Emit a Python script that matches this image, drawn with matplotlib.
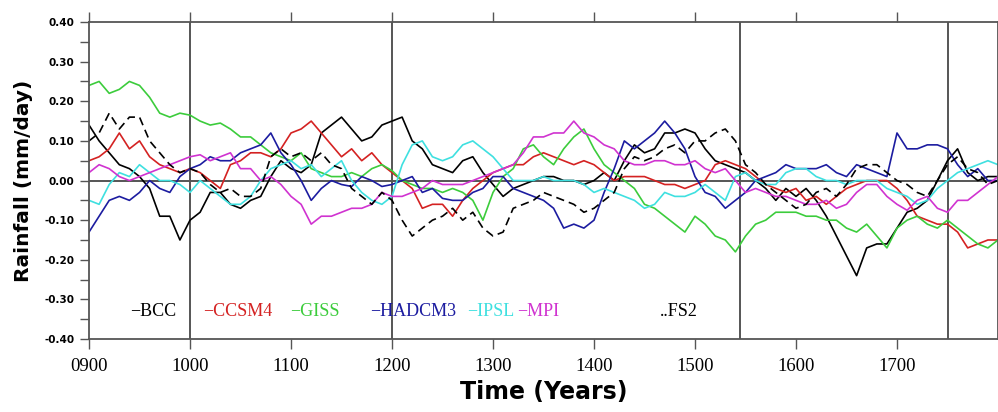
import numpy as np
import matplotlib.pyplot as plt
from matplotlib.ticker import FixedLocator, MultipleLocator

# decadal values (mm/day anomalies)
years = np.arange(900, 1801, 10)

bcc = [0.14, 0.10, 0.07, 0.04, 0.03, 0.01, -0.02, -0.09, -0.09, -0.15,
       -0.10, -0.08, -0.03, -0.03, -0.06, -0.07, -0.05, -0.04, 0.01, 0.05,
       0.03, 0.02, 0.04, 0.12, 0.14, 0.16, 0.13, 0.10, 0.11, 0.14,
       0.15, 0.16, 0.10, 0.08, 0.04, 0.03, 0.02, 0.05, 0.06, 0.02,
       -0.01, -0.04, -0.02, -0.01, 0.00, 0.01, 0.01, 0.00, 0.00, -0.01,
       0.00, 0.02, 0.00, 0.05, 0.09, 0.07, 0.08, 0.12, 0.12, 0.13,
       0.12, 0.08, 0.05, 0.04, 0.03, 0.02, 0.00, -0.02, -0.05, -0.02,
       -0.04, -0.02, -0.05, -0.09, -0.14, -0.19, -0.24, -0.17, -0.16, -0.16,
       -0.12, -0.08, -0.07, -0.05, 0.00, 0.05, 0.08, 0.02, 0.00, 0.01,
       0.01]

ccsm4 = [0.05, 0.06, 0.08, 0.12, 0.08, 0.10, 0.06, 0.04, 0.03, 0.02,
         0.03, 0.02, 0.00, -0.02, 0.04, 0.05, 0.07, 0.07, 0.06, 0.08,
         0.12, 0.13, 0.15, 0.12, 0.09, 0.06, 0.08, 0.05, 0.07, 0.04,
         0.02, 0.00, -0.02, -0.07, -0.06, -0.06, -0.09, -0.05, -0.02, 0.00,
         0.02, 0.03, 0.04, 0.04, 0.06, 0.07, 0.06, 0.05, 0.04, 0.05,
         0.04, 0.02, 0.00, 0.01, 0.01, 0.01, 0.00, -0.01, -0.01, -0.02,
         -0.01, 0.00, 0.04, 0.05, 0.04, 0.03, 0.01, -0.01, -0.02, -0.03,
         -0.02, -0.05, -0.04, -0.06, -0.04, -0.02, -0.01, 0.00, 0.00, 0.00,
         -0.02, -0.05, -0.09, -0.10, -0.11, -0.11, -0.13, -0.17, -0.16, -0.15,
         -0.15]

giss = [0.24, 0.25, 0.22, 0.23, 0.25, 0.24, 0.21, 0.17, 0.16, 0.17,
        0.165, 0.15, 0.14, 0.145, 0.13, 0.11, 0.11, 0.09, 0.07, 0.06,
        0.05, 0.07, 0.03, 0.02, 0.01, 0.01, 0.02, 0.01, 0.03, 0.04,
        0.025, 0.00, -0.01, -0.02, -0.02, -0.03, -0.02, -0.03, -0.05, -0.10,
        -0.03, 0.01, 0.03, 0.08, 0.09, 0.06, 0.04, 0.08, 0.11, 0.13,
        0.08, 0.04, 0.02, 0.00, -0.02, -0.06, -0.07, -0.09, -0.11, -0.13,
        -0.09, -0.11, -0.14, -0.15, -0.18, -0.14, -0.11, -0.10, -0.08, -0.08,
        -0.08, -0.09, -0.09, -0.10, -0.10, -0.12, -0.13, -0.11, -0.14, -0.17,
        -0.12, -0.10, -0.09, -0.11, -0.12, -0.10, -0.12, -0.14, -0.16, -0.17,
        -0.15]

hadcm3 = [-0.13, -0.09, -0.05, -0.04, -0.05, -0.03, 0.00, -0.02, -0.03, 0.01,
          0.03, 0.04, 0.06, 0.05, 0.05, 0.07, 0.08, 0.09, 0.12, 0.07,
          0.04, 0.00, -0.05, -0.02, 0.00, -0.01, -0.015, 0.01, 0.00, -0.015,
          -0.01, 0.00, 0.01, -0.03, -0.02, -0.045, -0.05, -0.05, -0.03, -0.02,
          0.01, 0.01, -0.02, -0.03, -0.04, -0.05, -0.07, -0.12, -0.11, -0.12,
          -0.10, -0.03, 0.03, 0.10, 0.08, 0.10, 0.12, 0.15, 0.12, 0.08,
          0.01, -0.03, -0.04, -0.07, -0.05, -0.03, 0.00, 0.01, 0.02, 0.04,
          0.03, 0.03, 0.03, 0.04, 0.02, 0.01, 0.04, 0.03, 0.02, 0.01,
          0.12, 0.08, 0.08, 0.09, 0.09, 0.08, 0.04, 0.01, 0.03, 0.00,
          0.00]

ipsl = [-0.05, -0.06, -0.01, 0.02, 0.01, 0.04, 0.02, 0.00, 0.00, -0.01,
        -0.03, 0.00, -0.02, -0.04, -0.06, -0.06, -0.04, 0.00, 0.03, 0.04,
        0.05, 0.03, 0.04, 0.01, 0.03, 0.05, 0.00, -0.03, -0.05, -0.06,
        -0.04, 0.04, 0.09, 0.10, 0.06, 0.05, 0.06, 0.09, 0.10, 0.08,
        0.06, 0.03, 0.00, 0.00, 0.00, 0.01, 0.00, 0.00, 0.00, -0.01,
        -0.03, -0.02, -0.03, -0.04, -0.05, -0.07, -0.06, -0.03, -0.04, -0.04,
        -0.03, -0.01, -0.03, -0.05, 0.01, 0.02, 0.00, -0.01, -0.01, 0.02,
        0.03, 0.03, 0.01, 0.00, 0.00, -0.01, 0.00, 0.00, 0.00, -0.02,
        -0.03, -0.04, -0.06, -0.05, -0.02, 0.00, 0.02, 0.03, 0.04, 0.05,
        0.04]

mpi = [0.02, 0.04, 0.03, 0.01, 0.00, 0.01, 0.02, 0.03, 0.04, 0.05,
       0.06, 0.065, 0.05, 0.06, 0.07, 0.03, 0.03, 0.00, 0.01, -0.01,
       -0.04, -0.06, -0.11, -0.09, -0.09, -0.08, -0.07, -0.07, -0.06, -0.03,
       -0.04, -0.04, -0.03, -0.02, 0.00, -0.01, -0.01, -0.01, 0.00, 0.01,
       0.02, 0.03, 0.04, 0.07, 0.11, 0.11, 0.12, 0.12, 0.15, 0.12,
       0.11, 0.09, 0.08, 0.05, 0.04, 0.04, 0.05, 0.05, 0.04, 0.04,
       0.05, 0.03, 0.02, 0.03, 0.00, -0.03, -0.02, -0.03, -0.04, -0.04,
       -0.05, -0.06, -0.06, -0.05, -0.07, -0.06, -0.03, -0.01, -0.01, -0.04,
       -0.06, -0.075, -0.05, -0.04, -0.07, -0.08, -0.05, -0.05, -0.03, -0.01,
       0.01]

fs2 = [0.10, 0.12, 0.17, 0.13, 0.16, 0.16, 0.10, 0.07, 0.04, 0.02,
       0.03, 0.02, -0.01, -0.03, -0.02, -0.04, -0.04, -0.02, 0.06, 0.08,
       0.06, 0.07, 0.05, 0.07, 0.04, 0.03, -0.02, -0.04, -0.06, -0.03,
       -0.05, -0.10, -0.14, -0.12, -0.10, -0.09, -0.07, -0.10, -0.08, -0.12,
       -0.14, -0.13, -0.07, -0.06, -0.05, -0.03, -0.04, -0.05, -0.06, -0.08,
       -0.07, -0.05, -0.03, 0.03, 0.06, 0.05, 0.06, 0.08, 0.09, 0.07,
       0.10, 0.10, 0.12, 0.13, 0.10, 0.04, 0.02, -0.01, -0.03, -0.05,
       -0.07, -0.06, -0.03, -0.02, -0.04, -0.01, 0.03, 0.04, 0.04, 0.02,
       0.00, -0.01, -0.03, -0.04, 0.00, 0.04, 0.06, 0.03, 0.02, -0.01,
       0.00]

names = ["BCC", "CCSM4", "GISS", "HADCM3", "IPSL", "MPI", "FS2"]
colors = ["black", "#d42222", "#3ccc3c", "#1c1ca0", "#3fe0e0", "#d033d0", "black"]
label_years = [941, 1013, 1099, 1178, 1274, 1324, 1465]
divider_years = [1000, 1200, 1545, 1750]

xtick_vals = list(range(900, 1800, 100))
xtick_text = ["0900", "1000", "1100", "1200", "1300", "1400", "1500", "1600", "1700"]
ytick_vals = [-0.4, -0.3, -0.2, -0.1, 0.0, 0.1, 0.2, 0.3, 0.4]
ytick_text = ["-0.40", "-0.30", "-0.20", "-0.10", "0.00", "0.10", "0.20", "0.30", "0.40"]

fig = plt.figure(figsize=(9.98, 4.12), dpi=100)
ax = fig.add_axes([0.0892, 0.177, 0.9108, 0.7696])

series = [bcc, ccsm4, giss, hadcm3, ipsl, mpi, fs2]
for name, vals, col in zip(names, series, colors):
    ls = (0, (5, 3)) if name == "FS2" else "-"
    ax.plot(years, vals, color=col, lw=1.2, ls=ls)

for yr in divider_years:
    ax.axvline(yr, color="#555555", lw=1.4, zorder=0.5)
ax.axhline(0, color="#555555", lw=1.4, zorder=0.5)

# in-plot labels instead of a legend box
for name, col, lx in zip(names, colors, label_years):
    prefix = ".." if name == "FS2" else "\u2212"
    ax.text(lx, -0.33, prefix + name, color=col, fontsize=13,
            family="Liberation Serif", va="center", ha="left")

ax.set_xlim(900, 1800)
ax.set_ylim(-0.4, 0.4)
ax.xaxis.set_major_locator(FixedLocator(xtick_vals))
ax.set_xticklabels(xtick_text, family="Liberation Serif", fontsize=13.5)
ax.set_yticks(ytick_vals)
ax.set_yticklabels(ytick_text, fontsize=7.5, fontweight="bold")
ax.yaxis.set_minor_locator(MultipleLocator(0.05))

ax.tick_params(axis="x", which="major", direction="out", top=True,
               length=7.5, width=1, color="#555555", pad=6)
ax.tick_params(axis="y", which="both", direction="out", length=6.5,
               width=1, color="#555555", pad=4)
for s in ax.spines.values():
    s.set_color("#555555")
    s.set_linewidth(1.3)

ax.set_ylabel("Rainfall (mm/day)", fontsize=14.5, fontweight="bold", labelpad=8)
ax.set_xlabel("Time (Years)", fontsize=17, fontweight="bold", labelpad=4)

fig.savefig("out.png", dpi=100)
